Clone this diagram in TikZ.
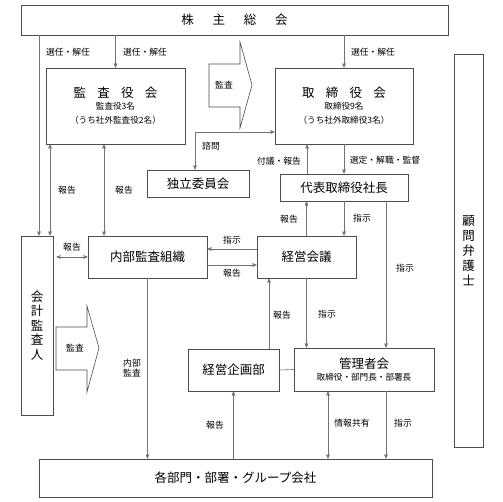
\documentclass[tikz,border=0pt]{standalone}
\usepackage{fontspec}
\setmainfont{Noto Sans CJK JP}
\usetikzlibrary{arrows,positioning}

\definecolor{boxgray}{gray}{0.3}
\definecolor{linegray}{gray}{0.45}
\newcommand{\subfont}{\fontsize{8.6}{9.8}\selectfont}

\begin{document}
\begin{tikzpicture}[x=1pt,y=-1pt,>=stealth',
    box/.style={draw=boxgray,line width=0.9pt,inner sep=0pt,align=center,
                font=\fontsize{12.5}{14}\selectfont},
    conn/.style={draw=linegray,line width=0.6pt},
    lbl/.style={font=\fontsize{8.8}{10}\selectfont,inner sep=0pt,align=center}]

        \useasboundingbox (0,0) rectangle (503,502);

        \node[box,minimum width=427,minimum height=30] (kabu) at (234.5,20)
            {株\hspace{1.5em}主\hspace{1.5em}総\hspace{1.5em}会};
        \node[box,minimum width=139,minimum height=76] (kansa) at (115.5,106)
            {監\hspace{0.9em}査\hspace{0.9em}役\hspace{0.9em}会\\[-2pt]
             \subfont 監査役3名\\\subfont （うち社外監査役2名）};
        \node[box,minimum width=138,minimum height=76] (tori) at (344,106)
            {取\hspace{0.9em}締\hspace{0.9em}役\hspace{0.9em}会\\[-2pt]
             \subfont 取締役9名\\\subfont （うち社外取締役3名）};
        \node[box,minimum width=102,minimum height=27] (iinkai) at (198,183.5) {独立委員会};
        \node[box,minimum width=128,minimum height=27] (shacho) at (344,187.5) {代表取締役社長};
        \node[box,minimum width=99,minimum height=42] (keiei) at (306.5,257) {経営会議};
        \node[box,minimum width=119,minimum height=42] (naibu) at (147.5,257) {内部監査組織};
        \node[box,minimum width=32,minimum height=179,font=\fontsize{12.5}{14.5}\selectfont]
            (kaikei) at (37,325.5) {会\\計\\監\\査\\人};
        \node[box,minimum width=29,minimum height=393,font=\fontsize{12.5}{15}\selectfont]
            (komon) at (468.5,250.5) {顧\\問\\弁\\護\\士};
        \node[box,minimum width=91,minimum height=42] (kikaku) at (233.5,370) {経営企画部};
        \node[box,minimum width=140,minimum height=43] (kanri) at (364,369.5)
            {管理者会\\[-2pt]\subfont 取締役・部門長・部署長};
        \node[box,minimum width=393,minimum height=38] (kakubu) at (235.5,478)
            {各部門・部署・グループ会社};

        % hollow arrows
        \draw[boxgray,line width=0.6pt,fill=white] (209,64) -- (240,64) -- (240,42)
            -- (252,85) -- (240,128) -- (240,107) -- (209,107) -- cycle;
        \node[lbl] (kansa1) at (224,85) {監査};
        \draw[boxgray,line width=0.6pt,fill=white] (56,327) -- (87,327) -- (87,306)
            -- (99,348) -- (87,392) -- (87,370) -- (56,370) -- cycle;
        \node[lbl] (kansa2) at (75,348) {監査};

        % helper points
        \coordinate (x1) at ([xshift=2pt]kaikei.north);
        \coordinate (x2) at ([xshift=13pt]kaikei.north);
        \coordinate (x3) at ([xshift=-43.5pt]naibu.north);
        \coordinate (t1) at ([yshift=-26pt]tori.west);
        \coordinate (x4) at ([xshift=-3pt]iinkai.north);
        \coordinate (x5) at ([xshift=-37pt]shacho.north);
        \coordinate (x6) at ([xshift=42pt]shacho.south);
        \coordinate (y1) at ([yshift=8pt]keiei.west);
        \coordinate (y2) at ([yshift=-8pt]keiei.west);
        \coordinate (x7) at ([xshift=35.5pt]kikaku.north);
        \coordinate (x8) at ([xshift=-36pt]kanri.south);
        \coordinate (x9) at ([xshift=22pt]kanri.south);

        \draw[conn,->] (x1 |- kabu.south) -- (x1) node[lbl] (s1) at (68,52) {選任・解任};
        \draw[conn,->] (kansa.north |- kabu.south) -- (kansa.north)
            node[lbl] (s2) at (145,52) {選任・解任};
        \draw[conn,->] (tori.north |- kabu.south) -- (tori.north)
            node[lbl] (s3) at (373,52) {選任・解任};
        \draw[conn,<->] (x2 |- kansa.south) -- (x2) node[lbl] (h1) at (67,190) {報告};
        \draw[conn,<->] (x3 |- kansa.south) -- (x3) node[lbl] (h2) at (124,190) {報告};
        \draw[conn,<->] (t1) -| (x4) node[lbl] (sh) at (211,146) {諮問};
        \draw[conn,->] (x5) -- (x5 |- tori.south) node[lbl] (fh) at (279,161) {付議・報告};
        \draw[conn,->] (tori.south) -- (tori.south |- shacho.north)
            node[lbl] (sk) at (385,160) {選定・解職・監督};
        \draw[conn,->] (keiei.north) -- (keiei.north |- shacho.south)
            node[lbl] (h3) at (289,219) {報告};
        \draw[conn,->] (shacho.south) -- (shacho.south |- keiei.north)
            node[lbl] (j1) at (362,218) {指示};
        \draw[conn,->] (x6) -- (x6 |- kanri.north) node[lbl] (j2) at (405,268) {指示};
        \draw[conn,<->] ([xshift=3pt]naibu.west -| kaikei.east) -- (naibu.west)
            node[lbl] (h4) at (72,247) {報告};
        \draw[conn,->] (y1) -- (y1 -| naibu.east) node[lbl] (j3) at (232,240) {指示};
        \draw[conn,->] (y2 -| naibu.east) -- (y2) node[lbl] (h5) at (232,273) {報告};
        \draw[conn,->] (naibu.south) -- (naibu.south |- kakubu.north)
            node[lbl] (nk) at (132,368) {内部\\監査};
        \draw[conn,->] (x7) -- (x7 |- keiei.south) node[lbl] (h6) at (282,315) {報告};
        \draw[conn,->] (keiei.south) -- (keiei.south |- kanri.north)
            node[lbl] (j4) at (327,314) {指示};
        \draw[conn] (kikaku.east) -- (kanri.west);
        \draw[conn,->] (kikaku.south |- kakubu.north) -- (kikaku.south)
            node[lbl] (h7) at (215,425) {報告};
        \draw[conn,<->] (x8) -- (x8 |- kakubu.north) node[lbl] (jk) at (352,423) {情報共有};
        \draw[conn,->] (x9) -- (x9 |- kakubu.north) node[lbl] (j5) at (403,423) {指示};
    \end{tikzpicture}
\end{document}
